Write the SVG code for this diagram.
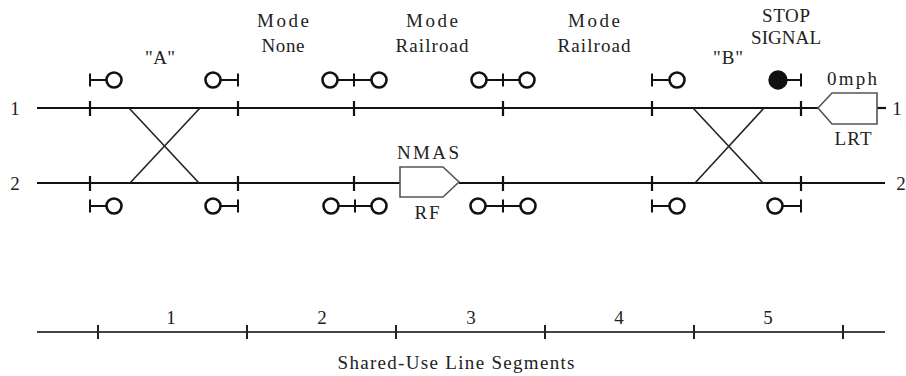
<svg xmlns="http://www.w3.org/2000/svg" xmlns:xlink="http://www.w3.org/1999/xlink" width="906" height="376" viewBox="0 0 906 376">
<style>
.trk{stroke:#111;stroke-width:2.2;fill:none}
.tick{stroke:#111;stroke-width:2.2}
.xo{stroke:#222;stroke-width:1.6;fill:none}
.sig{stroke:#111;stroke-width:2.6;fill:#fff}
.sigf{stroke:#111;stroke-width:2.4;fill:#111}
.stem{stroke:#111;stroke-width:2}
.box{stroke:#555;stroke-width:1.6;fill:#fff}
.scale{stroke:#444;stroke-width:2}
.stick{stroke:#222;stroke-width:2}
text{font-family:"Liberation Serif","Times New Roman",serif;font-size:19px;fill:#222;text-anchor:middle}
</style>
<rect width="906" height="376" fill="#fff"/>

<g id="connectors">
  <!-- track 1 -->
  <line class="trk" x1="37" y1="108" x2="818" y2="108"/>
  <line class="trk" x1="877" y1="108" x2="886" y2="108"/>
  <!-- track 2 -->
  <line class="trk" x1="37" y1="183" x2="400" y2="183"/>
  <line class="trk" x1="459" y1="183" x2="885" y2="183"/>
  <!-- crossovers -->
  <line class="xo" x1="129" y1="108" x2="199" y2="183"/>
  <line class="xo" x1="200" y1="108" x2="130" y2="183"/>
  <line class="xo" x1="693" y1="108" x2="763" y2="183"/>
  <line class="xo" x1="764" y1="108" x2="695" y2="183"/>
  <!-- block ticks -->
  <g class="tick">
    <line x1="90" y1="101" x2="90" y2="116"/><line x1="238" y1="101" x2="238" y2="116"/>
    <line x1="354" y1="101" x2="354" y2="116"/><line x1="503" y1="101" x2="503" y2="116"/>
    <line x1="652" y1="101" x2="652" y2="116"/><line x1="801" y1="101" x2="801" y2="116"/>
    <line x1="90" y1="176" x2="90" y2="191"/><line x1="238" y1="176" x2="238" y2="191"/>
    <line x1="354" y1="176" x2="354" y2="191"/><line x1="503" y1="176" x2="503" y2="191"/>
    <line x1="652" y1="176" x2="652" y2="191"/><line x1="801" y1="176" x2="801" y2="191"/>
  </g>
</g>

<g id="track-labels">
  <text x="15" y="115">1</text>
  <text x="15" y="190">2</text>
  <text x="897" y="115">1</text>
  <text x="901" y="190">2</text>
</g>

<g id="signals-top">
  <g id="sig-t1"><line class="stem" x1="90" y1="80" x2="106" y2="80"/><line class="stem" x1="90" y1="73.5" x2="90" y2="86.5"/><circle class="sig" cx="114" cy="80" r="7.5"/></g>
  <g id="sig-t2"><line class="stem" x1="221" y1="80" x2="238" y2="80"/><line class="stem" x1="238" y1="73.5" x2="238" y2="86.5"/><circle class="sig" cx="213" cy="80" r="7.5"/></g>
  <g id="sig-t3"><line class="stem" x1="338" y1="80" x2="371" y2="80"/><line class="stem" x1="354" y1="73.5" x2="354" y2="86.5"/><circle class="sig" cx="330" cy="80" r="7.5"/><circle class="sig" cx="379" cy="80" r="7.5"/></g>
  <g id="sig-t4"><line class="stem" x1="486" y1="80" x2="519" y2="80"/><line class="stem" x1="503" y1="73.5" x2="503" y2="86.5"/><circle class="sig" cx="479" cy="80" r="7.5"/><circle class="sig" cx="527" cy="80" r="7.5"/></g>
  <g id="sig-t5"><line class="stem" x1="652" y1="80" x2="669" y2="80"/><line class="stem" x1="652" y1="73.5" x2="652" y2="86.5"/><circle class="sig" cx="677" cy="80" r="7.5"/></g>
  <g id="sig-t6"><line class="stem" x1="786" y1="80" x2="801" y2="80"/><line class="stem" x1="801" y1="73.5" x2="801" y2="86.5"/><circle class="sigf" cx="778" cy="80" r="8.5"/></g>
</g>

<g id="signals-bottom">
  <g id="sig-b1"><line class="stem" x1="90" y1="206" x2="106" y2="206"/><line class="stem" x1="90" y1="199.5" x2="90" y2="212.5"/><circle class="sig" cx="114" cy="206" r="7.5"/></g>
  <g id="sig-b2"><line class="stem" x1="221" y1="206" x2="238" y2="206"/><line class="stem" x1="238" y1="199.5" x2="238" y2="212.5"/><circle class="sig" cx="213" cy="206" r="7.5"/></g>
  <g id="sig-b3"><line class="stem" x1="339" y1="206" x2="371" y2="206"/><line class="stem" x1="355" y1="199.5" x2="355" y2="212.5"/><circle class="sig" cx="331" cy="206" r="7.5"/><circle class="sig" cx="379" cy="206" r="7.5"/></g>
  <g id="sig-b4"><line class="stem" x1="486" y1="206" x2="520" y2="206"/><line class="stem" x1="503" y1="199.5" x2="503" y2="212.5"/><circle class="sig" cx="478" cy="206" r="7.5"/><circle class="sig" cx="528" cy="206" r="7.5"/></g>
  <g id="sig-b5"><line class="stem" x1="652" y1="206" x2="669" y2="206"/><line class="stem" x1="652" y1="199.5" x2="652" y2="212.5"/><circle class="sig" cx="677" cy="206" r="7.5"/></g>
  <g id="sig-b6"><line class="stem" x1="783" y1="206" x2="801" y2="206"/><line class="stem" x1="801" y1="199.5" x2="801" y2="212.5"/><circle class="sig" cx="775" cy="206" r="7.5"/></g>
</g>

<g id="train-nmas">
  <polygon class="box" points="400,167 443,167 459,182 443,197 400,197"/>
  <text x="428" y="159" textLength="62" lengthAdjust="spacing">NMAS</text>
  <text x="427" y="219" textLength="25" lengthAdjust="spacing">RF</text>
</g>

<g id="train-lrt">
  <polygon class="box" points="818,108 832,93 877,93 877,124 832,124"/>
  <text x="852" y="85" textLength="50" lengthAdjust="spacing">0mph</text>
  <text x="853" y="145" textLength="37" lengthAdjust="spacing">LRT</text>
</g>

<g id="labels">
  <text x="160" y="64" textLength="30" lengthAdjust="spacing">"A"</text>
  <text x="728" y="64" textLength="30" lengthAdjust="spacing">"B"</text>
  <text x="283" y="27" textLength="52" lengthAdjust="spacing">Mode</text>
  <text x="283" y="52" textLength="43" lengthAdjust="spacing">None</text>
  <text x="432" y="27" textLength="52" lengthAdjust="spacing">Mode</text>
  <text x="432" y="52" textLength="73" lengthAdjust="spacing">Railroad</text>
  <text x="594" y="27" textLength="52" lengthAdjust="spacing">Mode</text>
  <text x="594" y="52" textLength="73" lengthAdjust="spacing">Railroad</text>
  <text x="786" y="22" textLength="48" lengthAdjust="spacing">STOP</text>
  <text x="786" y="44" textLength="70" lengthAdjust="spacing">SIGNAL</text>
</g>

<g id="segment-scale">
  <line class="scale" x1="37" y1="332" x2="885" y2="332"/>
  <g class="stick">
    <line x1="98" y1="325" x2="98" y2="339"/><line x1="247" y1="325" x2="247" y2="339"/>
    <line x1="396" y1="325" x2="396" y2="339"/><line x1="545" y1="325" x2="545" y2="339"/>
    <line x1="694" y1="325" x2="694" y2="339"/><line x1="843" y1="325" x2="843" y2="339"/>
  </g>
  <text x="171" y="324">1</text>
  <text x="322" y="324">2</text>
  <text x="471" y="324">3</text>
  <text x="619" y="324">4</text>
  <text x="768" y="324">5</text>
  <text x="456" y="369" textLength="237" lengthAdjust="spacing">Shared-Use Line Segments</text>
</g>
</svg>
